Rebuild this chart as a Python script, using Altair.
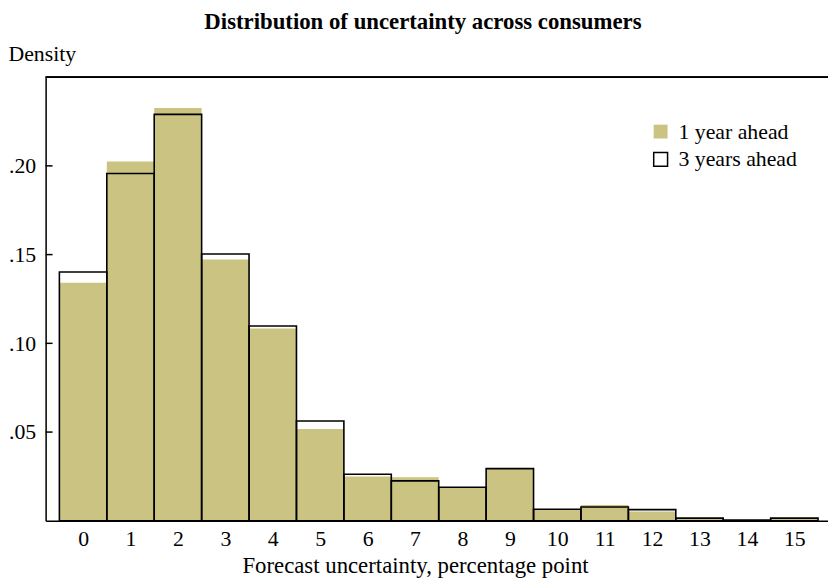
import altair as alt
import pandas as pd

bins = list(range(16))
one_year = [0.1342, 0.2024, 0.2326, 0.1473, 0.1084, 0.0517, 0.0249, 0.0246, 0.0188,
            0.0292, 0.0063, 0.0089, 0.0052, 0.0015, 0.0004, 0.0015]
three_years = [0.1402, 0.1957, 0.2290, 0.1503, 0.1098, 0.0562, 0.0262, 0.0225, 0.0189,
               0.0294, 0.0065, 0.0078, 0.0063, 0.0015, 0.0004, 0.0015]
series_names = ["1 year ahead", "3 years ahead"]
y_ticks = [0.05, 0.10, 0.15, 0.20]

rows = []
for i, b in enumerate(bins):
    rows.append({"bin": b, "series": series_names[0], "density": one_year[i], "order": 0})
for i, b in enumerate(bins):
    rows.append({"bin": b, "series": series_names[1], "density": three_years[i], "order": 1})
df = pd.DataFrame(rows)

FONT = "Liberation Serif"
W, H = 790, 448

xscale = alt.Scale(domain=[-0.79, 15.71], nice=False, zero=False)
yscale = alt.Scale(domain=[0, 0.25], nice=False)

legend_kw = dict(title=None, orient="none", legendX=610, legendY=44,
                 symbolType="square", symbolSize=196, symbolStrokeWidth=1.5,
                 labelFont=FONT, labelFontSize=22, labelColor="black",
                 rowPadding=6, labelOffset=7)

bars = alt.Chart(df).transform_calculate(
    x0="datum.bin - 0.5", x1="datum.bin + 0.5"
).mark_bar(strokeWidth=1.6, opacity=1).encode(
    x=alt.X("x0:Q", scale=xscale,
            axis=alt.Axis(values=bins, title="Forecast uncertainty, percentage point",
                          ticks=False, grid=False, domainColor="black", domainWidth=1.5,
                          labelFont=FONT, labelFontSize=22, labelColor="black", labelPadding=8,
                          titleFont=FONT, titleFontSize=23, titleFontWeight="normal",
                          titleColor="black", titleX=373, titleY=45, titleBaseline="middle",
                          labelFlush=False)),
    x2="x1:Q",
    y=alt.Y("density:Q", scale=yscale, stack=None,
            axis=alt.Axis(values=y_ticks, title="Density", ticks=False, grid=False,
                          domainColor="black", domainWidth=1.5,
                          labelExpr="replace(format(datum.value, '.2f'), '0.', '.')",
                          labelFont=FONT, labelFontSize=22, labelColor="black", labelPadding=10,
                          titleFont=FONT, titleFontSize=22, titleFontWeight="normal",
                          titleColor="black", titleAngle=0, titleX=-38, titleY=-24,
                          titleAlign="left", titleBaseline="middle")),
    y2=alt.datum(0),
    fill=alt.Fill("series:N", scale=alt.Scale(domain=series_names, range=["#CAC382", "transparent"]),
                  legend=alt.Legend(**legend_kw)),
    stroke=alt.Stroke("series:N", scale=alt.Scale(domain=series_names, range=["transparent", "black"]),
                      legend=alt.Legend(**legend_kw)),
    order=alt.Order("order:Q"),
)

tick_df = pd.DataFrame({"v": y_ticks})
yticks = alt.Chart(tick_df).mark_rule(color="black", strokeWidth=1.5).encode(
    y=alt.Y("v:Q", scale=yscale), x=alt.value(0), x2=alt.value(7)
)

top_line = alt.Chart(tick_df).mark_rule(color="black", strokeWidth=1.5).encode(
    y=alt.value(0), x=alt.value(0), x2=alt.value(W)
)

chart = alt.layer(bars, yticks, top_line).properties(
    width=W, height=H,
    autosize=alt.AutoSizeParams(type="none"),
    padding={"left": 38, "top": 67, "right": 0, "bottom": 60},
    title=alt.TitleParams("Distribution of uncertainty across consumers", font=FONT,
                          fontSize=23, fontWeight="bold", color="black", anchor="middle",
                          frame="group", dx=-14, offset=9),
).configure_view(stroke=None).configure(background="white")

chart.save("out.html", embed_options={"renderer": "svg", "actions": False})
